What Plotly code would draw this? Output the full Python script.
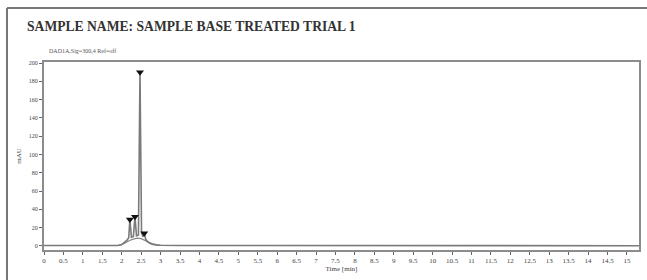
import plotly.graph_objects as go

# chromatogram trace (time in min, signal in mAU)
time_min = [0.0, 0.5, 1.0, 1.5, 1.9, 2.0, 2.06, 2.13, 2.18, 2.21, 2.25, 2.3, 2.34, 2.38, 2.43, 2.47,
            2.51, 2.55, 2.58, 2.62, 2.68, 2.78, 2.9, 3.0, 3.5, 5.0, 8.0, 11.0, 15.31]
signal_mau = [0.5, 0.5, 0.5, 0.5, 0.6, 1.5, 3.5, 6.0, 9.0, 29.0, 9.5, 10.5, 32.0, 11.0, 12.0, 190.0,
              14.0, 10.0, 14.0, 7.0, 4.0, 2.0, 1.2, 0.8, 0.5, 0.4, 0.3, 0.3, 0.3]

# hump under the peaks
hump_time = [1.9, 2.0, 2.1, 2.2, 2.3, 2.4, 2.5, 2.6, 2.7, 2.8, 2.9, 3.0]
hump_mau = [0.5, 1.5, 3.5, 6.0, 7.5, 8.5, 8.0, 6.0, 3.5, 2.0, 1.0, 0.5]

# detected peaks
peak_times = [2.21, 2.34, 2.47, 2.58]
peak_heights = [29.0, 32.0, 190.0, 14.0]

x_ticks = [i * 0.5 for i in range(31)]
x_tick_labels = ["0", "0.5", "1", "1.5", "2", "2.5", "3", "3.5", "4", "4.5", "5", "5.5", "6", "6.5",
                 "7", "7.5", "8", "8.5", "9", "9.5", "10", "10.5", "11", "11.5", "12", "12.5", "13",
                 "13.5", "14", "14.5", "15"]
y_ticks = [0, 20, 40, 60, 80, 100, 120, 140, 160, 180, 200]

fig = go.Figure()
fig.add_trace(go.Scatter(x=hump_time, y=hump_mau, mode="lines",
                         line=dict(color="#8a8a8a", width=1.2), showlegend=False))
fig.add_trace(go.Scatter(x=time_min, y=signal_mau, mode="lines",
                         line=dict(color="#7a7a7a", width=1.6), showlegend=False))
fig.add_trace(go.Scatter(x=peak_times, y=peak_heights, mode="markers",
                         marker=dict(symbol="triangle-down", size=7, color="#111"),
                         showlegend=False))

W, H = 647, 280
L, R, T, B = 44, 8, 62, 30
pw, ph = W - L - R, H - T - B

def px(p):
    return (p - L) / pw

def py(p):
    return (H - B - p) / ph

serif = "Liberation Serif, Times New Roman, serif"

fig.update_layout(
    width=W, height=H,
    margin=dict(l=L, r=R, t=T, b=B, autoexpand=False),
    paper_bgcolor="white", plot_bgcolor="white",
    font=dict(family=serif, color="#444", size=7),
    xaxis=dict(range=[0, 15.31], tickvals=x_ticks, ticktext=x_tick_labels, automargin=False,
               ticks="outside", ticklen=3, tickcolor="#666", showgrid=False, zeroline=False,
               showline=True, linecolor="#8c8c8c", linewidth=2, mirror=True,
               tickfont=dict(size=7, family=serif, color="#444"),
               title=dict(text="Time [min]", font=dict(size=7, family=serif, color="#444"), standoff=2)),
    yaxis=dict(range=[-4.4, 201.1], tickvals=y_ticks, ticks="outside", ticklen=3, tickcolor="#666",
               automargin=False,
               showgrid=False, zeroline=False, showline=True, linecolor="#8c8c8c", linewidth=2,
               mirror=True, tickfont=dict(size=6, family=serif, color="#444"),
               title=dict(text="mAU", font=dict(size=7, family=serif, color="#444"), standoff=6)),
    shapes=[
        dict(type="line", xref="paper", yref="paper", x0=px(7), x1=px(7), y0=py(8), y1=py(285),
             line=dict(color="#777", width=2)),
        dict(type="line", xref="paper", yref="paper", x0=px(7), x1=px(650), y0=py(8), y1=py(8),
             line=dict(color="#777", width=2)),
    ],
    annotations=[
        dict(text="<b>SAMPLE NAME: SAMPLE BASE TREATED TRIAL 1</b>", xref="paper", yref="paper",
             x=px(25), y=py(26), xanchor="left", yanchor="middle", showarrow=False,
             font=dict(size=13.6, family=serif, color="#333")),
        dict(text="DAD1A,Sig=300,4 Ref=off", xref="paper", yref="paper",
             x=px(47), y=py(51), xanchor="left", yanchor="middle", showarrow=False,
             font=dict(size=6, family=serif, color="#555")),
    ],
)

fig.write_html("out.html", config={"displayModeBar": False},
               post_script="document.body.style.margin='0px';")
